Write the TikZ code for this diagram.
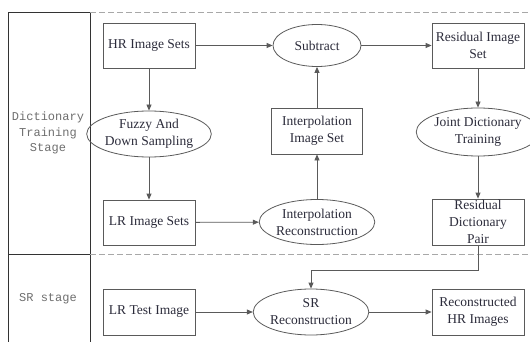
\documentclass[tikz,border=0pt]{standalone}
\usepackage{fontspec}
\setmainfont{Liberation Serif}
\newfontfamily\monofont{Liberation Mono}
\usetikzlibrary{shapes.geometric,arrows.meta}
\definecolor{linec}{HTML}{5A5A5A}
\definecolor{txtc}{HTML}{2B2B3A}
\definecolor{graytxt}{HTML}{6E6E6E}
\definecolor{dashc}{HTML}{A8A8A8}
\begin{document}
\begin{tikzpicture}[x=1pt,y=-1pt,
  box/.style={draw=linec, line width=0.8pt, minimum width=92pt, minimum height=45pt, inner sep=1pt, align=center, text=txtc, font=\fontsize{13.5}{17}\selectfont},
  oval/.style={ellipse, draw=linec, line width=0.8pt, inner sep=0pt, align=center, text=txtc, font=\fontsize{13.5}{17}\selectfont},
  arr/.style={draw=linec, line width=0.8pt, -{Triangle[length=6pt,width=5pt]}},
  lane/.style={draw=black!80, line width=1pt},
  sep/.style={draw=dashc, line width=1pt, dash pattern=on 6pt off 3pt},
  lanetxt/.style={text=graytxt, align=center, font=\monofont\fontsize{12}{15.5}\selectfont}]
\useasboundingbox (0,0) rectangle (530,342);
% lanes
\draw[lane] (8,342) -- (8,13) -- (90,13) -- (90,342);
\draw[lane] (8,254) -- (90,254);
\draw[sep] (90,13) -- (530,13);
\draw[sep] (90,254) -- (530,254);
\node[lanetxt] (lane1) at (48,133) {Dictionary\\Training\\Stage};
\node[lanetxt] (lane2) at (48,299) {SR stage};
% nodes
\node[box] (hr) at (149,45.5) {HR Image Sets};
\node[oval, minimum width=105pt, minimum height=46pt] (fuzzy) at (149,134) {Fuzzy And\\Down Sampling};
\node[box] (lr) at (149,222.5) {LR Image Sets};
\node[oval, minimum width=109pt, minimum height=45pt] (irec) at (317,222) {Interpolation\\Reconstruction};
\node[box, minimum width=91pt, minimum height=46pt] (iset) at (317,131) {Interpolation\\Image Set};
\node[oval, minimum width=88pt, minimum height=42pt] (sub) at (317,45.5) {Subtract};
\node[box] (ris) at (478,45.5) {Residual Image\\Set};
\node[oval, minimum width=108pt, minimum height=48pt] (joint) at (478,132) {Joint Dictionary\\Training};
\node[box, minimum height=46pt] (rdp) at (478,222) {Residual\\Dictionary\\Pair};
\node[box, minimum height=46pt] (lrt) at (149,312) {LR Test Image};
\node[oval, minimum width=108pt, minimum height=46pt] (sr) at (311,312) {SR\\Reconstruction};
\node[box, minimum height=46pt] (rhr) at (478,312) {Reconstructed\\HR Images};
\coordinate (bend1) at (478,270);
\coordinate (bend2) at (311,270);
% connectors
\draw[arr] (hr) -- (sub);
\draw[arr] (sub) -- (ris);
\draw[arr] (hr) -- (fuzzy);
\draw[arr] (fuzzy) -- (lr);
\draw[arr] (lr) -- (irec);
\draw[arr] (irec) -- (iset);
\draw[arr] (iset) -- (sub);
\draw[arr] (ris) -- (joint);
\draw[arr] (joint) -- (rdp);
\draw[arr] (rdp.south) -- (bend1) -- (bend2) -- (sr.north);
\draw[arr] (lrt) -- (sr);
\draw[arr] (sr) -- (rhr);
\end{tikzpicture}
\end{document}
